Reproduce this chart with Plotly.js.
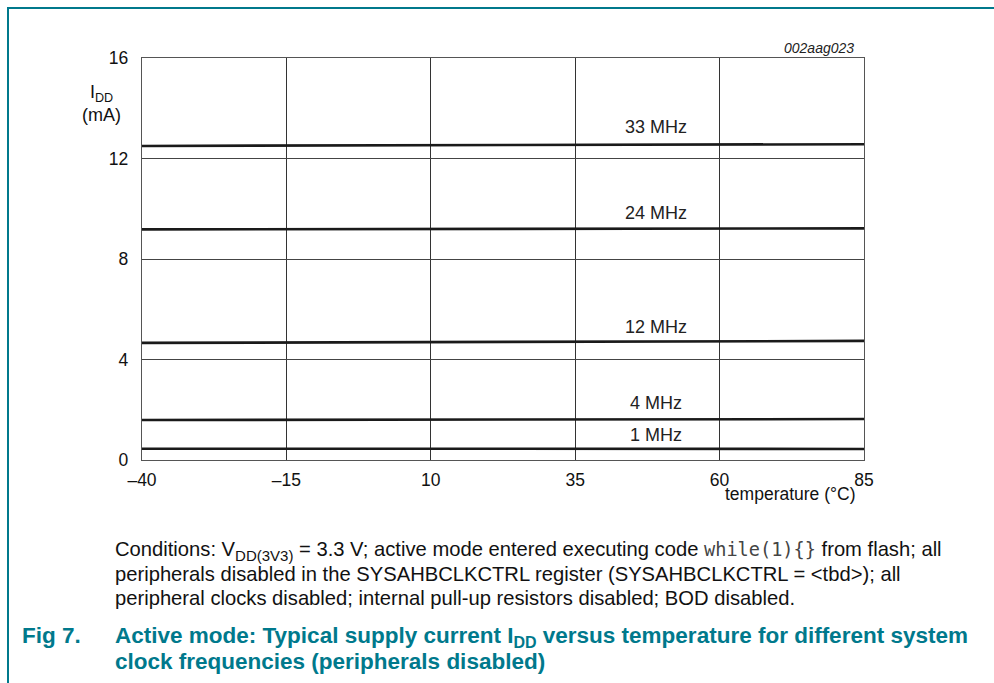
<!DOCTYPE html>
<html>
<head>
<meta charset="utf-8">
<script src="https://cdn.plot.ly/plotly-3.0.1.min.js"></script>
<style>
  html, body { margin:0; padding:0; background:#fff; }
  #wrap { position:relative; width:994px; height:683px; overflow:hidden; font-family:"Liberation Sans", Arial, sans-serif; }
  #chart { position:absolute; left:0; top:0; width:994px; height:683px; }
  .frameTop { position:absolute; left:8px; top:7px; width:986px; height:2px; background:#00798c; }
  .frameLeft { position:absolute; left:7px; top:7px; width:2px; height:676px; background:#00798c; }
  .cond { position:absolute; left:115px; top:537px; font-size:20.2px; line-height:24px; color:#111; white-space:nowrap; }
  .cond sub { font-size:15px; vertical-align:-5px; line-height:0; }
  .mono { font-family:"DejaVu Sans Mono", monospace; font-size:18.6px; color:#444; }
  .fig { position:absolute; left:22px; top:623px; font-size:22.5px; font-weight:bold; color:#00798c; line-height:26px; }
  .ttl { position:absolute; left:115px; top:623px; font-size:22.5px; font-weight:bold; color:#00798c; line-height:25.5px; white-space:nowrap; }
  .ttl sub { font-size:16px; vertical-align:-5px; line-height:0; }
</style>
</head>
<body>
<div id="wrap">
  <div id="chart"></div>
  <div class="frameTop"></div>
  <div class="frameLeft"></div>
  <div class="cond">Conditions: V<sub>DD(3V3)</sub> = 3.3 V; active mode entered executing code <span class="mono">while(1){}</span> from flash; all<br>peripherals disabled in the SYSAHBCLKCTRL register (SYSAHBCLKCTRL = &lt;tbd&gt;); all<br>peripheral clocks disabled; internal pull-up resistors disabled; BOD disabled.</div>
  <div class="fig">Fig 7.</div>
  <div class="ttl">Active mode: Typical supply current I<sub>DD</sub> versus temperature for different system<br>clock frequencies (peripherals disabled)</div>
</div>
<script>
// Data
const temperature = [-40, -15, 10, 35, 60, 85];
const idd33MHz = [12.50, 12.52, 12.53, 12.55, 12.56, 12.57];
const idd24MHz = [9.18, 9.19, 9.20, 9.21, 9.22, 9.22];
const idd12MHz = [4.66, 4.68, 4.69, 4.71, 4.73, 4.74];
const idd4MHz  = [1.59, 1.60, 1.61, 1.62, 1.62, 1.63];
const idd1MHz  = [0.45, 0.45, 0.44, 0.44, 0.44, 0.44];
const seriesNames = ["33 MHz", "24 MHz", "12 MHz", "4 MHz", "1 MHz"];
const labelX = [49, 49, 49, 49, 49];
const labelY = [13.25, 9.83, 5.29, 2.27, 1.0];
const xTickVals = [-40, -15, 10, 35, 60, 85];
const xTickText = ["\u201340", "\u201315", "10", "35", "60", "85"];
const yTickVals = [0, 4, 8, 12, 16];

const allSeries = [idd33MHz, idd24MHz, idd12MHz, idd4MHz, idd1MHz];
const traces = allSeries.map((ys, i) => ({
  x: temperature, y: ys, type: "scatter", mode: "lines",
  name: seriesNames[i], line: {color: "#1a1a1a", width: 2.6}, hoverinfo: "skip"
}));

const fam = '"Liberation Sans", Arial, sans-serif';
const tickFont = {family: fam, size: 17.5, color: "#111"};
const annotations = seriesNames.map((n, i) => ({
  x: labelX[i], y: labelY[i], xref: "x", yref: "y", text: n, showarrow: false,
  font: {family: fam, size: 18, color: "#222"}
}));
annotations.push({xref: "paper", yref: "paper", x: (123 - 142) / 722, y: (460 - 103) / 402,
  xanchor: "right", yanchor: "middle", align: "center", showarrow: false,
  text: "I<sub>DD</sub><br>(mA)", font: {family: fam, size: 18, color: "#111"}});
annotations.push({xref: "paper", yref: "paper", x: (858 - 142) / 722, y: (460 - 494) / 402,
  xanchor: "right", yanchor: "middle", showarrow: false,
  text: "temperature (\u00B0C)", font: {family: fam, size: 17.5, color: "#111"}});
annotations.push({xref: "paper", yref: "paper", x: (856 - 142) / 722, y: (460 - 48) / 402,
  xanchor: "right", yanchor: "middle", showarrow: false,
  text: "<i>002aag023</i>", font: {family: fam, size: 14, color: "#222"}});

const layout = {
  width: 994, height: 683,
  margin: {l: 142, r: 130, t: 58, b: 223},
  paper_bgcolor: "rgba(0,0,0,0)", plot_bgcolor: "#fff",
  showlegend: false,
  font: tickFont,
  xaxis: {
    range: [-40, 85], tickvals: xTickVals, ticktext: xTickText,
    showgrid: true, gridcolor: "#333", gridwidth: 1,
    zeroline: false, showline: true, linecolor: "#555", linewidth: 1.2, mirror: true,
    ticks: "", ticklabelstandoff: 4, tickfont: tickFont, fixedrange: true
  },
  yaxis: {
    range: [0, 16], tickvals: yTickVals,
    showgrid: true, gridcolor: "#444", gridwidth: 1,
    zeroline: false, showline: true, linecolor: "#555", linewidth: 1.2, mirror: true,
    ticks: "", ticklabelstandoff: 9, tickfont: tickFont, fixedrange: true
  },
  annotations: annotations
};

Plotly.newPlot("chart", traces, layout, {staticPlot: true, displayModeBar: false});
</script>
</body>
</html>
